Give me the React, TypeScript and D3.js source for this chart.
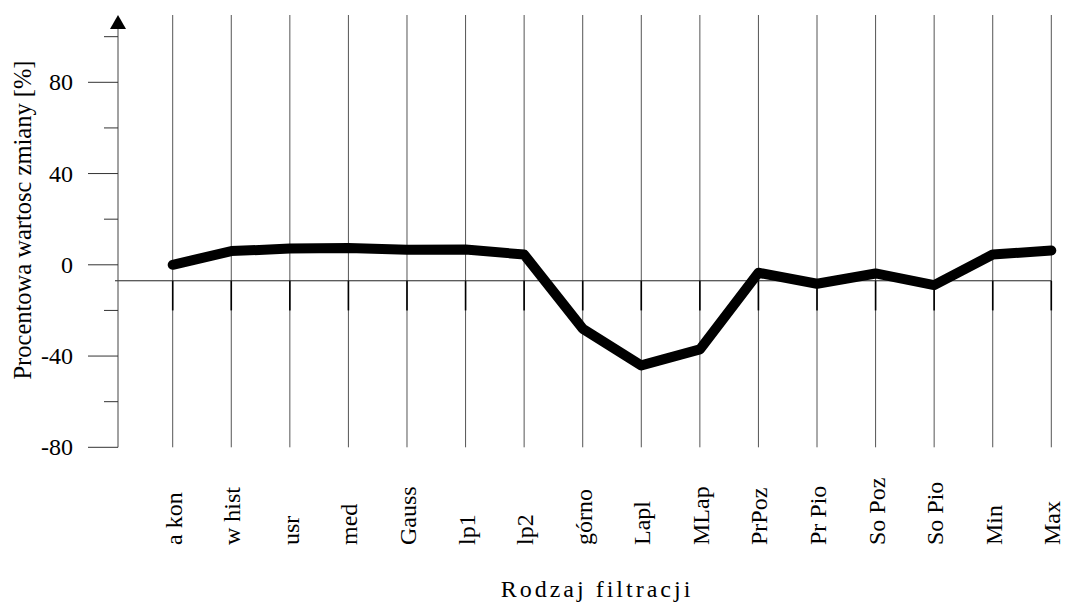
import React, { useEffect, useRef } from 'react';
import * as d3 from 'd3';

const categories = ['a kon', 'w hist', 'usr', 'med', 'Gauss', 'lp1', 'lp2', 'górno', 'Lapl', 'MLap', 'PrPoz', 'Pr Pio', 'So Poz', 'So Pio', 'Min', 'Max'];
const values = [0, 6.0, 7.1, 7.4, 6.6, 6.7, 4.5, -28, -44.1, -37.1, -3.5, -8.3, -3.8, -8.9, 4.5, 6.3];
const majorTicks = [-80, -40, 0, 40, 80];
const minorTicks = [-60, -20, 20, 60, 100];
const baselineValue = -7; // poziom osi X
const tickBottomValue = -20;

const App = () => {
  const svgRef = useRef<SVGSVGElement>(null);

  useEffect(() => {
    document.body.style.margin = '0';
    const width = 1065;
    const height = 615;
    const font = "'Liberation Serif', 'Times New Roman', serif";

    const svg = d3.select(svgRef.current)
      .attr('width', width)
      .attr('height', height)
      .style('display', 'block');
    svg.selectAll('*').remove();

    const x = d3.scalePoint<string>().domain(categories).range([172.7, 1051.3]);
    const y = d3.scaleLinear().domain([-80, 80]).range([447.3, 82.3]);

    const top = 15;
    const bottom = y(-80);

    // pionowe linie siatki
    svg.append('g')
      .selectAll('line')
      .data(categories)
      .join('line')
      .attr('x1', d => x(d)!)
      .attr('x2', d => x(d)!)
      .attr('y1', top)
      .attr('y2', bottom)
      .attr('stroke', '#555')
      .attr('stroke-width', 1);

    // krótkie znaczniki pod osią X
    svg.append('g')
      .selectAll('line')
      .data(categories)
      .join('line')
      .attr('x1', d => x(d)!)
      .attr('x2', d => x(d)!)
      .attr('y1', y(baselineValue))
      .attr('y2', y(tickBottomValue))
      .attr('stroke', '#000')
      .attr('stroke-width', 1.6);

    // os X (pozioma linia)
    svg.append('line')
      .attr('x1', 115)
      .attr('x2', x(categories[categories.length - 1])!)
      .attr('y1', y(baselineValue))
      .attr('y2', y(baselineValue))
      .attr('stroke', '#222')
      .attr('stroke-width', 1);

    // os Y
    const axisX = 118;
    svg.append('line')
      .attr('x1', axisX)
      .attr('x2', axisX)
      .attr('y1', 28)
      .attr('y2', bottom)
      .attr('stroke', '#444')
      .attr('stroke-width', 1);

    svg.append('path')
      .attr('d', `M${axisX},${top} L${axisX - 8},${top + 14} L${axisX + 8},${top + 14} Z`)
      .attr('fill', '#000');

    svg.append('g')
      .selectAll('line')
      .data(majorTicks)
      .join('line')
      .attr('x1', 88)
      .attr('x2', axisX)
      .attr('y1', d => y(d))
      .attr('y2', d => y(d))
      .attr('stroke', '#333');

    svg.append('g')
      .selectAll('line')
      .data(minorTicks)
      .join('line')
      .attr('x1', 104)
      .attr('x2', axisX)
      .attr('y1', d => y(d))
      .attr('y2', d => y(d))
      .attr('stroke', '#333');

    svg.append('g')
      .selectAll('text')
      .data(majorTicks)
      .join('text')
      .attr('x', 73)
      .attr('y', d => y(d))
      .attr('dy', '0.34em')
      .attr('text-anchor', 'end')
      .attr('font-family', font)
      .attr('font-size', 24)
      .text(d => String(d));

    // etykiety kategorii
    svg.append('g')
      .selectAll('text')
      .data(categories)
      .join('text')
      .attr('transform', d => `translate(${x(d)! + 9},545) rotate(-90)`)
      .attr('text-anchor', 'start')
      .attr('font-family', font)
      .attr('font-size', 24)
      .text(d => d);

    // linia danych
    const line = d3.line<number>()
      .x((_, i) => x(categories[i])!)
      .y(d => y(d));

    svg.append('path')
      .datum(values)
      .attr('d', line)
      .attr('fill', 'none')
      .attr('stroke', '#000')
      .attr('stroke-width', 10)
      .attr('stroke-linecap', 'round')
      .attr('stroke-linejoin', 'round');

    // tytuly osi
    svg.append('text')
      .attr('transform', 'translate(31,220) rotate(-90)')
      .attr('text-anchor', 'middle')
      .attr('font-family', font)
      .attr('font-size', 24.5)
      .text('Procentowa wartosc zmiany [%]');

    svg.append('text')
      .attr('x', 597)
      .attr('y', 597)
      .attr('text-anchor', 'middle')
      .attr('font-family', font)
      .attr('font-size', 24)
      .attr('letter-spacing', 3)
      .text('Rodzaj filtracji');
  }, []);

  return <svg ref={svgRef}></svg>;
};

export default App;
